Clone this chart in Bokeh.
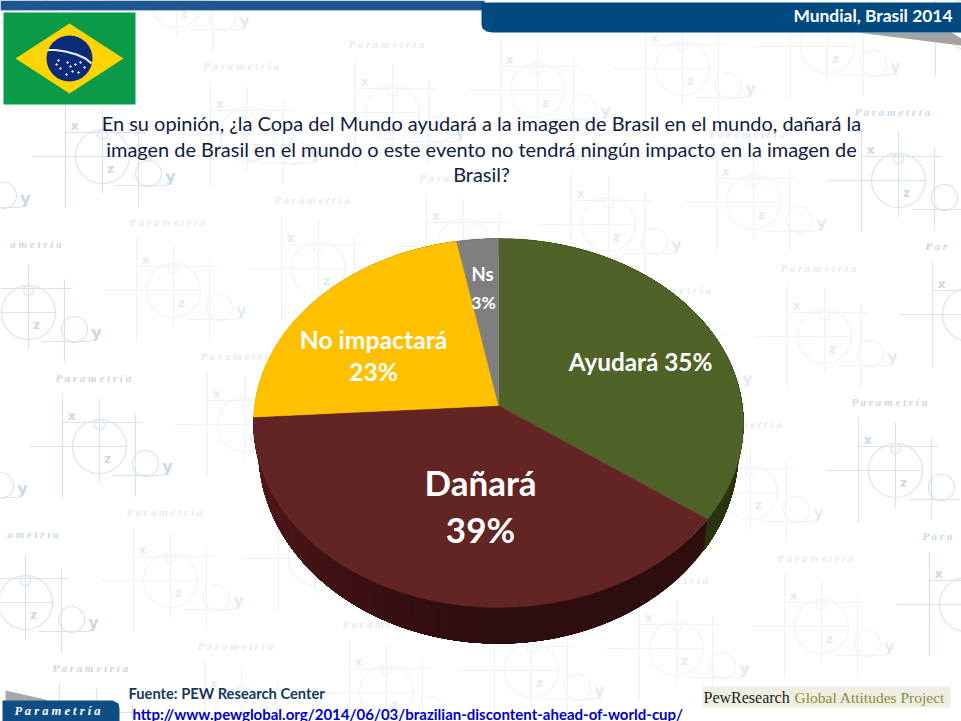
import numpy as np
from bokeh.plotting import figure
from bokeh.models import Range1d
from bokeh.core.properties import value
from bokeh.embed import file_html
from bokeh.resources import INLINE

# ---- data ----
categories = ["Ayudará", "Dañará", "No impactará", "Ns"]
shares = [35, 39, 23, 3]
top_colors = ["#4f6228", "#632523", "#ffc000", "#7f7f7f"]
side_rgb = [(40, 52, 15), (46, 13, 15), (138, 104, 0), (68, 68, 68)]
question = [
    "En su opinión, ¿la Copa del Mundo ayudará a la imagen de Brasil en el mundo, dañará la",
    "imagen de Brasil en el mundo o este evento no tendrá ningún impacto en la imagen de",
    "Brasil?",
]
header = "Mundial, Brasil 2014"
source = "Fuente: PEW Research Center"
url = "http://www.pewglobal.org/2014/06/03/brazilian-discontent-ahead-of-world-cup/"

W, H = 961, 721
p = figure(width=W, height=H, x_range=Range1d(0, W), y_range=Range1d(H, 0),
           toolbar_location=None, output_backend="svg", min_border=0,
           x_axis_type=None, y_axis_type=None, background_fill_color="white")
p.outline_line_color = None
p.grid.visible = False


def txt(x, y, s, size, color, font="Lato", style="normal", align="left", alpha=1.0):
    p.text([x], [y], text=[s], text_font=value(font), text_font_size=f"{size}px",
           text_font_style=style, text_color=color, text_align=align,
           text_baseline="middle", text_alpha=alpha)


# ---- watermark background ----
WORD = list("Parametría")


def motif(cx, cy):
    outer = cx < 120 or cx > 850
    c = "#d9e3ee" if outer else "#edf4f7"
    tc = "#cbd8e6" if outer else "#e4ecf1"
    xs = [[cx - 37, cx + 43], [cx - 70, cx + 28], [cx + 13, cx + 64],
          [cx - 37, cx - 37], [cx, cx], [cx + 36, cx + 36]]
    ys = [[cy - 24, cy - 24], [cy, cy], [cy + 29, cy + 29],
          [cy - 53, cy + 52], [cy - 48, cy + 37], [cy - 33, cy + 50]]
    p.multi_line(xs, ys, line_color=c, line_width=1.2)
    p.circle([cx, cx, cx + 46], [cy, cy - 22, cy + 17], radius=[27, 5, 13],
             fill_color=None, line_color=c, line_width=1.2)
    for dx, dy, s, size in [(-28, -31, "x", 12), (8, 12, "z", 12), (68, 20, "y", 16)]:
        tx, ty = cx + dx, cy + dy
        if 8 < tx < W - 8 and 10 < ty < H - 10:
            txt(tx, ty, s, size, tc, font="DejaVu Sans", style="bold", align="center")
    # the word, letter-spaced and shortened where it would run off the page
    step = 8.6
    x0 = cx - 44
    letters = list(enumerate(WORD))
    kept = [(n, ch) for n, ch in letters if 2 < x0 + n * step and x0 + (n + 1) * step < W - 2]
    if len(kept) >= 3 and 10 < cy - 69 < H - 10:
        s = " ".join(ch for _, ch in kept)
        txt(x0 + kept[0][0] * step, cy - 69, s, 11, tc, font="Liberation Serif",
            style="bold italic")


for j in range(-2, 6):
    for i in range(-4, 7):
        cx = 392 + i * 145 + j * 71
        cy = 112 - i * 22 + j * 134
        if -60 < cx < 1010 and -20 < cy < 760:
            motif(cx, cy)

# ---- header bands ----
p.quad(left=[0], right=[484], top=[0], bottom=[9.5], fill_color="#1c5790", line_color=None)
p.line([0, 484], [10, 10], line_color="#a9c4dc", line_width=1)
p.patch([857, 951, 961, 961], [32, 32, 38, 45], fill_color="#a3a3a3", line_color=None)
bar_x = [484, 961, 961, 492, 486, 482, 481, 481]
bar_y = [2, 2, 32, 32, 31, 28, 24, 2]
p.patch(bar_x, bar_y, fill_color="#004a80", line_color=None)
txt(952, 15, header, 17.4, "white", style="bold", align="right")

# ---- flag ----
p.quad(left=[3], right=[135], top=[12], bottom=[104], fill_color="#0b9a48", line_color=None)
p.patch([15, 69, 123, 69], [58, 23, 58, 93], fill_color="#ffd400", line_color=None)
p.circle([69], [58], radius=23, fill_color="#0b2a78", line_color=None)
p.line([47, 55, 65, 76, 85, 91], [49.5, 49.5, 51, 54, 58, 63], line_color="#e8efe8", line_width=2.2)
p.scatter([56, 60, 67, 70, 72, 78, 84, 58, 75, 66, 80], [64, 68, 62, 66, 71, 72, 67, 60, 64, 74, 62],
          size=1.5, color="white")

# ---- question ----
for s, yy in zip(question, [122, 148, 173]):
    txt(481, yy, s, 19.95, "#10203f", align="center")

# ---- perspective pie ----
APEX_X, APEX_Y, FX, FY, PERSP = 498, 405, 243.9, 182.8, 0.0949
BOTTOM_SX, BOTTOM_SY, DEPTH = 0.98, 1.05, 26


def rim(t):
    d = 1 + PERSP * np.cos(t)
    return APEX_X + FX * np.sin(t) / d, APEX_Y - FY * np.cos(t) / d


edges = np.cumsum([0] + shares) / sum(shares) * 2 * np.pi
for k in range(len(shares)):
    n = max(2, int((edges[k + 1] - edges[k]) / np.radians(3)))
    stops = np.linspace(edges[k], edges[k + 1], n + 1)
    # each band runs on to the wedge's end, so the next one overlaps it and no seam shows
    for a, b in zip(stops[:-1], stops[1:]):
        t = np.linspace(a, edges[k + 1], 60)
        rx, ry = rim(t)
        bx = APEX_X + (rx - APEX_X) * BOTTOM_SX
        by = APEX_Y + (ry - APEX_Y) * BOTTOM_SY + DEPTH
        # the side lightens towards the left of the pie
        shade = 1 + 0.75 * max(0.0, -np.sin((a + b) / 2)) ** 1.5
        col = "#%02x%02x%02x" % tuple(min(255, int(v * shade)) for v in side_rgb[k])
        p.patch(list(rx) + list(bx[::-1]), list(ry) + list(by[::-1]),
                fill_color=col, line_color=None)
for k in range(len(shares)):
    t = np.linspace(edges[k], edges[k + 1], 120)
    rx, ry = rim(t)
    p.patch([APEX_X] + list(rx), [APEX_Y] + list(ry),
            fill_color=top_colors[k], line_color=top_colors[k], line_width=0.5)

# ---- pie labels ----
txt(640, 361, f"{categories[0]} {shares[0]}%", 24.3, "white", style="bold", align="center")
txt(480, 481, categories[1], 35, "white", style="bold", align="center")
txt(480, 528, f"{shares[1]}%", 35, "white", style="bold", align="center")
txt(373, 339, categories[2], 24.7, "white", style="bold", align="center")
txt(373, 371, f"{shares[2]}%", 24.7, "white", style="bold", align="center")
txt(482, 273, categories[3], 18.5, "white", style="bold", align="center")
txt(483, 302, f"{shares[3]}%", 17.5, "white", style="bold", align="center")

# ---- footer ----
p.patch([5, 45, 50, 5], [690, 699, 702, 702], fill_color="#a8a8a8", line_color=None)
p.patch([2, 112, 118, 119, 119, 2], [700, 700, 703, 708, 721, 721], fill_color="#0f4d85", line_color=None)
txt(14, 710, "P a r a m e t r í a", 12.5, "white", font="Liberation Serif", style="bold italic")
txt(128, 692, source, 14.7, "#17375e", style="bold")
txt(132, 713, url, 15, "#0000cc", style="bold")
p.quad(left=[702], right=[950], top=[686], bottom=[707], fill_color="#eeeee2", line_color=None)
txt(703, 697, "PewResearch", 16, "#222222", font="Liberation Serif")
txt(794, 697, "Global Attitudes Project", 15.5, "#8b8f3e", font="Liberation Serif")

open("out.html", "w").write(file_html(p, INLINE))
